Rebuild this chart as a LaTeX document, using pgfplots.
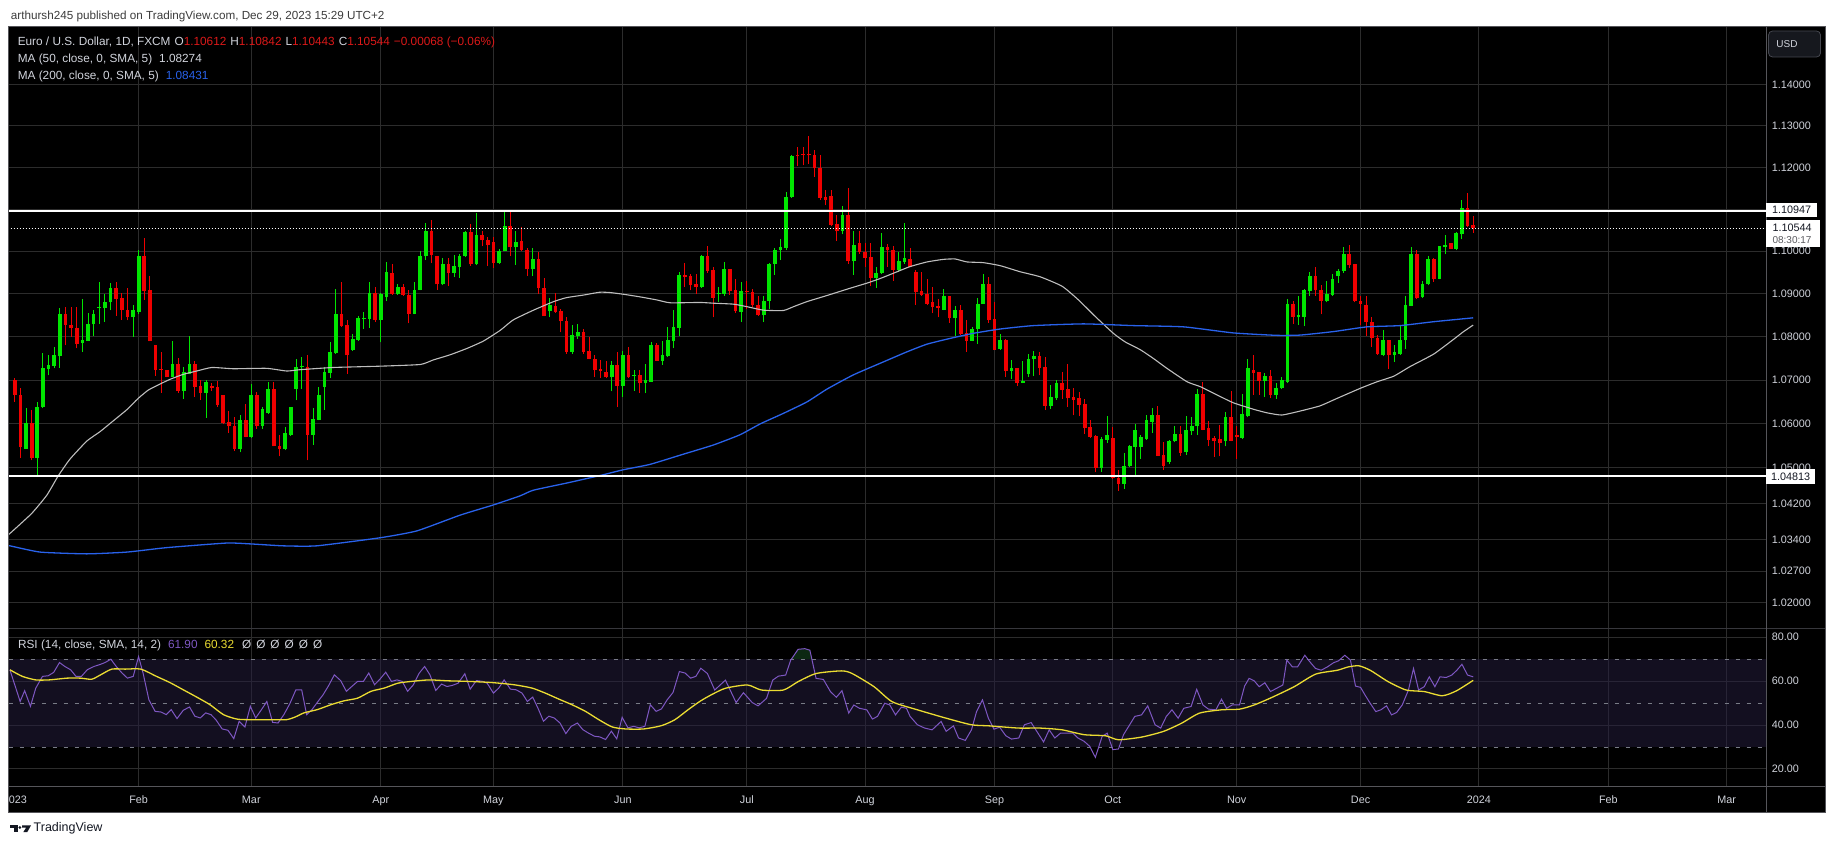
\documentclass[border=0pt]{standalone}
\usepackage{pgfplots}
\pgfplotsset{compat=1.18}
\usepackage{pgfplotstable}
\usepackage{fontspec}
\setmainfont{Liberation Sans}
\definecolor{upc}{RGB}{0,230,0}
\definecolor{dnc}{RGB}{240,0,0}
\definecolor{gridc}{RGB}{44,44,44}
\definecolor{axtext}{RGB}{209,212,220}
\definecolor{ma50c}{RGB}{190,190,190}
\definecolor{ma200c}{RGB}{41,98,235}
\definecolor{rsic}{RGB}{126,87,194}
\definecolor{rsimac}{RGB}{235,220,50}
\definecolor{bandc}{RGB}{38,30,64}
\definecolor{dashc}{RGB}{120,123,134}
\definecolor{obc}{RGB}{12,40,18}
\definecolor{legred}{RGB}{220,25,25}
\definecolor{sepc}{RGB}{85,85,90}
\definecolor{sepd}{RGB}{55,55,60}
\definecolor{capc}{RGB}{60,60,60}
\definecolor{footc}{RGB}{19,23,34}

\pgfplotstableread{
i o h l c
2 1.0544 1.0636 1.0543 1.0602
4 1.0522 1.0651 1.0485 1.0639
5 1.0638 1.0762 1.0636 1.0727
6 1.0725 1.0759 1.0711 1.0734
7 1.0733 1.0776 1.0727 1.0757
8 1.0755 1.0866 1.0728 1.0852
12 1.0785 1.0887 1.0766 1.0792
13 1.0791 1.0855 1.0790 1.0830
14 1.0829 1.0861 1.0802 1.0853
15 1.0866 1.0928 1.0830 1.0869
16 1.0866 1.0900 1.0835 1.0882
17 1.0880 1.0925 1.0861 1.0913
21 1.0845 1.0875 1.0800 1.0861
22 1.0858 1.1002 1.0852 1.0988
28 1.0706 1.0791 1.0706 1.0738
30 1.0676 1.0729 1.0657 1.0719
31 1.0715 1.0802 1.0713 1.0738
34 1.0670 1.0700 1.0614 1.0696
40 1.0543 1.0620 1.0535 1.0609
42 1.0571 1.0691 1.0568 1.0666
44 1.0595 1.0638 1.0588 1.0633
45 1.0624 1.0696 1.0623 1.0679
48 1.0543 1.0592 1.0540 1.0579
49 1.0575 1.0639 1.0573 1.0639
50 1.0679 1.0748 1.0653 1.0730
51 1.0729 1.0753 1.0680 1.0732
53 1.0575 1.0636 1.0553 1.0611
54 1.0609 1.0685 1.0608 1.0666
55 1.0685 1.0730 1.0632 1.0719
56 1.0717 1.0787 1.0704 1.0764
57 1.0762 1.0912 1.0761 1.0853
60 1.0770 1.0806 1.0768 1.0795
61 1.0793 1.0849 1.0791 1.0844
62 1.0841 1.0857 1.0818 1.0843
63 1.0841 1.0928 1.0820 1.0902
65 1.0839 1.0902 1.0787 1.0900
66 1.0892 1.0975 1.0883 1.0951
68 1.0900 1.0924 1.0898 1.0916
71 1.0853 1.0928 1.0852 1.0909
72 1.0909 1.1001 1.0908 1.0990
73 1.0988 1.1067 1.0979 1.1047
76 1.0922 1.0983 1.0920 1.0971
78 1.0950 1.0991 1.0939 1.0965
79 1.0963 1.0993 1.0938 1.0988
80 1.0988 1.1049 1.0987 1.1045
82 1.0969 1.1091 1.0967 1.1038
86 1.0972 1.1006 1.0971 1.1001
87 1.1000 1.1095 1.1000 1.1061
89 1.1009 1.1049 1.0968 1.1021
92 1.0958 1.1008 1.0942 1.0982
95 1.0859 1.0891 1.0845 1.0874
99 1.0766 1.0827 1.0761 1.0804
100 1.0802 1.0829 1.0795 1.0811
106 1.0706 1.0745 1.0674 1.0734
108 1.0686 1.0767 1.0662 1.0759
110 1.0709 1.0723 1.0676 1.0712
112 1.0693 1.0738 1.0670 1.0700
113 1.0696 1.0787 1.0695 1.0782
115 1.0744 1.0791 1.0735 1.0757
116 1.0755 1.0822 1.0753 1.0792
117 1.0790 1.0862 1.0773 1.0823
118 1.0821 1.0952 1.0802 1.0945
122 1.0916 1.0992 1.0914 1.0988
125 1.0900 1.0916 1.0881 1.0902
126 1.0900 1.0974 1.0896 1.0958
129 1.0858 1.0928 1.0834 1.0906
133 1.0850 1.0896 1.0834 1.0883
134 1.0883 1.0973 1.0864 1.0970
135 1.0970 1.1008 1.0944 1.1002
136 1.1002 1.1028 1.0979 1.1010
137 1.1008 1.1142 1.1002 1.1129
138 1.1129 1.1230 1.1127 1.1227
147 1.1047 1.1108 1.1040 1.1086
149 1.0976 1.1049 1.0944 1.1016
153 1.0938 1.0964 1.0914 1.0950
154 1.0948 1.1044 1.0946 1.1010
157 1.0956 1.0998 1.0952 1.0976
158 1.0974 1.1066 1.0970 1.0984
165 1.0863 1.0911 1.0861 1.0895
167 1.0843 1.0872 1.0802 1.0862
170 1.0791 1.0822 1.0789 1.0818
171 1.0818 1.0891 1.0784 1.0877
172 1.0877 1.0946 1.0876 1.0922
175 1.0772 1.0806 1.0770 1.0792
177 1.0721 1.0747 1.0702 1.0728
179 1.0694 1.0743 1.0692 1.0698
180 1.0715 1.0761 1.0708 1.0749
181 1.0748 1.0768 1.0709 1.0755
184 1.0641 1.0689 1.0634 1.0661
185 1.0658 1.0700 1.0655 1.0692
193 1.0500 1.0571 1.0492 1.0565
194 1.0564 1.0618 1.0556 1.0575
197 1.0464 1.0534 1.0453 1.0505
198 1.0504 1.0553 1.0502 1.0550
199 1.0547 1.0600 1.0485 1.0586
200 1.0547 1.0575 1.0521 1.0569
201 1.0565 1.0620 1.0564 1.0608
202 1.0605 1.0636 1.0580 1.0620
205 1.0513 1.0564 1.0510 1.0562
206 1.0560 1.0595 1.0558 1.0577
208 1.0535 1.0618 1.0530 1.0585
209 1.0583 1.0615 1.0575 1.0594
210 1.0594 1.0679 1.0574 1.0668
215 1.0562 1.0628 1.0549 1.0615
218 1.0568 1.0668 1.0565 1.0623
219 1.0618 1.0748 1.0615 1.0727
222 1.0698 1.0717 1.0661 1.0709
224 1.0666 1.0694 1.0657 1.0683
225 1.0683 1.0708 1.0679 1.0700
226 1.0696 1.0887 1.0693 1.0877
228 1.0845 1.0895 1.0828 1.0851
229 1.0847 1.0912 1.0824 1.0908
230 1.0906 1.0951 1.0896 1.0941
233 1.0883 1.0931 1.0880 1.0900
234 1.0898 1.0947 1.0896 1.0934
235 1.0941 1.0959 1.0925 1.0954
236 1.0954 1.1010 1.0949 1.0993
243 1.0759 1.0815 1.0755 1.0792
245 1.0757 1.0780 1.0742 1.0764
246 1.0761 1.0828 1.0759 1.0792
247 1.0792 1.0896 1.0772 1.0873
248 1.0871 1.1010 1.0871 1.0993
250 1.0892 1.0931 1.0891 1.0924
251 1.0922 1.0988 1.0920 1.0981
253 1.0935 1.1012 1.0934 1.1012
254 1.1009 1.1039 1.0993 1.1014
256 1.1005 1.1045 1.1002 1.1043
257 1.1040 1.1122 1.1028 1.1102
}\upcandles

\pgfplotstableread{
i o h l c
0 1.0700 1.0705 1.0651 1.0666
1 1.0666 1.0683 1.0522 1.0547
3 1.0602 1.0632 1.0517 1.0522
9 1.0852 1.0870 1.0780 1.0828
10 1.0828 1.0870 1.0800 1.0820
11 1.0821 1.0869 1.0773 1.0784
18 1.0913 1.0929 1.0849 1.0888
19 1.0890 1.0902 1.0839 1.0863
20 1.0863 1.0913 1.0838 1.0845
23 1.0988 1.1032 1.0886 1.0906
24 1.0908 1.0941 1.0789 1.0789
25 1.0780 1.0780 1.0709 1.0723
26 1.0726 1.0765 1.0671 1.0723
27 1.0723 1.0724 1.0706 1.0708
29 1.0738 1.0752 1.0670 1.0676
32 1.0738 1.0745 1.0662 1.0684
33 1.0687 1.0700 1.0655 1.0670
35 1.0686 1.0694 1.0676 1.0683
36 1.0685 1.0698 1.0639 1.0643
37 1.0666 1.0666 1.0599 1.0602
38 1.0605 1.0630 1.0579 1.0594
39 1.0595 1.0615 1.0538 1.0543
41 1.0609 1.0645 1.0569 1.0571
43 1.0666 1.0673 1.0588 1.0596
46 1.0679 1.0696 1.0549 1.0549
47 1.0550 1.0575 1.0526 1.0543
52 1.0730 1.0759 1.0517 1.0575
58 1.0853 1.0929 1.0822 1.0826
59 1.0827 1.0838 1.0715 1.0757
64 1.0902 1.0917 1.0834 1.0840
67 1.0950 1.0969 1.0898 1.0900
69 1.0916 1.0924 1.0896 1.0898
70 1.0898 1.0908 1.0831 1.0853
74 1.1047 1.1075 1.0972 1.0991
75 1.0988 1.0988 1.0909 1.0922
77 1.0971 1.0983 1.0918 1.0950
81 1.1045 1.1065 1.0965 1.0969
83 1.1038 1.1048 1.1012 1.1026
84 1.1027 1.1035 1.0965 1.1014
85 1.1023 1.1035 1.0961 1.0972
88 1.1061 1.1095 1.0988 1.1009
90 1.1025 1.1057 1.1000 1.1002
91 1.1004 1.1008 1.0942 1.0958
93 1.0982 1.0998 1.0900 1.0914
94 1.0914 1.0936 1.0848 1.0848
96 1.0872 1.0902 1.0855 1.0858
97 1.0859 1.0864 1.0810 1.0836
98 1.0837 1.0846 1.0761 1.0766
101 1.0811 1.0818 1.0761 1.0766
102 1.0768 1.0800 1.0748 1.0748
103 1.0749 1.0758 1.0708 1.0723
104 1.0726 1.0746 1.0704 1.0720
105 1.0718 1.0743 1.0704 1.0706
107 1.0734 1.0764 1.0638 1.0686
109 1.0759 1.0777 1.0705 1.0706
111 1.0712 1.0723 1.0670 1.0693
114 1.0782 1.0785 1.0744 1.0745
119 1.0945 1.0972 1.0916 1.0940
120 1.0942 1.0946 1.0908 1.0920
121 1.0922 1.0946 1.0899 1.0916
123 1.0988 1.1013 1.0950 1.0954
124 1.0956 1.0962 1.0845 1.0891
127 1.0958 1.0958 1.0898 1.0906
128 1.0908 1.0934 1.0856 1.0859
130 1.0906 1.0930 1.0865 1.0904
131 1.0904 1.0912 1.0869 1.0873
132 1.0873 1.0896 1.0848 1.0850
139 1.1230 1.1248 1.1203 1.1227
140 1.1232 1.1250 1.1205 1.1229
141 1.1232 1.1276 1.1209 1.1229
142 1.1230 1.1242 1.1178 1.1198
143 1.1198 1.1230 1.1122 1.1127
144 1.1129 1.1146 1.1109 1.1122
145 1.1131 1.1146 1.1060 1.1062
146 1.1064 1.1086 1.1024 1.1047
148 1.1086 1.1150 1.0971 1.0976
150 1.1020 1.1047 1.0994 1.0998
151 1.0999 1.1020 1.0964 1.0984
152 1.0986 1.1020 1.0918 1.0938
155 1.1010 1.1018 1.0964 1.1002
156 1.1004 1.1013 1.0930 1.0956
159 1.0982 1.1008 1.0962 1.0964
160 1.0952 1.0956 1.0874 1.0904
161 1.0906 1.0952 1.0896 1.0898
162 1.0900 1.0934 1.0873 1.0877
163 1.0880 1.0916 1.0855 1.0870
164 1.0872 1.0888 1.0845 1.0868
166 1.0895 1.0895 1.0833 1.0843
168 1.0862 1.0874 1.0805 1.0806
169 1.0808 1.0840 1.0766 1.0791
173 1.0922 1.0940 1.0833 1.0839
174 1.0841 1.0880 1.0769 1.0770
176 1.0792 1.0795 1.0708 1.0721
178 1.0728 1.0728 1.0687 1.0694
182 1.0755 1.0764 1.0711 1.0728
183 1.0729 1.0753 1.0632 1.0641
186 1.0692 1.0719 1.0656 1.0677
187 1.0680 1.0736 1.0639 1.0658
188 1.0662 1.0683 1.0619 1.0655
189 1.0658 1.0672 1.0617 1.0643
190 1.0645 1.0656 1.0577 1.0590
191 1.0592 1.0609 1.0568 1.0571
192 1.0573 1.0575 1.0490 1.0500
195 1.0568 1.0592 1.0476 1.0477
196 1.0477 1.0495 1.0449 1.0464
203 1.0620 1.0641 1.0528 1.0528
204 1.0530 1.0559 1.0496 1.0505
207 1.0577 1.0595 1.0528 1.0534
211 1.0668 1.0696 1.0585 1.0586
212 1.0590 1.0607 1.0549 1.0564
213 1.0567 1.0573 1.0525 1.0560
214 1.0565 1.0598 1.0526 1.0556
216 1.0615 1.0676 1.0560 1.0562
217 1.0575 1.0594 1.0520 1.0570
220 1.0723 1.0757 1.0666 1.0717
221 1.0719 1.0719 1.0666 1.0698
223 1.0709 1.0724 1.0658 1.0666
227 1.0877 1.0883 1.0830 1.0845
231 1.0941 1.0964 1.0896 1.0908
232 1.0909 1.0921 1.0852 1.0884
237 1.0993 1.1016 1.0961 1.0967
238 1.0969 1.0969 1.0880 1.0883
239 1.0884 1.0894 1.0827 1.0877
240 1.0875 1.0894 1.0802 1.0834
241 1.0835 1.0847 1.0777 1.0798
242 1.0796 1.0805 1.0759 1.0761
244 1.0793 1.0793 1.0725 1.0757
249 1.0993 1.1004 1.0889 1.0891
252 1.0981 1.0985 1.0928 1.0935
255 1.1020 1.1020 1.1005 1.1005
258 1.1102 1.1138 1.1058 1.1059
259 1.10612 1.10842 1.10443 1.10544
}\downcandles

% build vertical segment lists (x,low)(x,high)(x,nan) from the OHLC tables
\newcommand\makesegs[4]{%
  \gdef#4{}%
  \pgfplotstablegetrowsof{#1}%
  \pgfmathtruncatemacro\segN{\pgfplotsretval-1}%
  \foreach \r in {0,...,\segN}{%
    \pgfplotstablegetelem{\r}{i}\of{#1}\let\sx\pgfplotsretval
    \pgfplotstablegetelem{\r}{#2}\of{#1}\let\slo\pgfplotsretval
    \pgfplotstablegetelem{\r}{#3}\of{#1}\let\shi\pgfplotsretval
    \xdef#4{#4(\sx,\slo)(\sx,\shi)(\sx,nan)}%
  }%
}
\makesegs{\upcandles}{l}{h}{\upwick}
\makesegs{\upcandles}{o}{c}{\upbody}
\makesegs{\downcandles}{l}{h}{\dnwick}
\makesegs{\downcandles}{c}{o}{\dnbody}
\def\lnnan{nan}

\begin{document}
\begin{tikzpicture}
\useasboundingbox (0pt,0pt) rectangle (1835pt,849pt);
\clip (0pt,0pt) rectangle (1835pt,849pt);
\fill[white] (0pt,0pt) rectangle (1835pt,849pt);
\fill[black] (8pt,36pt) rectangle (1826pt,822pt);

% ---------------- main price panel (logarithmic price scale) ----------------
\begin{axis}[at={(8pt,221pt)}, anchor=south west, scale only axis,
  width=1758pt, height=601pt,
  y coord trafo/.code={%
    \edef\lnarg{#1}%
    \ifx\lnarg\lnnan\def\pgfmathresult{nan}\else
      \begingroup\pgfkeys{/pgf/fpu=true,/pgf/fpu/output format=fixed}%
      \pgfmathparse{ln(#1)}\xdef\lnres{\pgfmathresult}\endgroup
      \let\pgfmathresult\lnres
    \fi},
  y coord inv trafo/.code={%
    \begingroup\pgfkeys{/pgf/fpu=true,/pgf/fpu/output format=fixed}%
    \pgfmathparse{exp(#1)}\xdef\lnres{\pgfmathresult}\endgroup
    \let\pgfmathresult\lnres},
  xmin=-1.208, xmax=311, ymin=1.01454, ymax=1.15428,
  axis line style={draw=none}, major tick length=0pt,
  xtick={22,42,65,85,108,130,151,174,195,217,239,260,283,304},
  xticklabels={,,,,,,,,,,,,,},
  ytick={1.02,1.027,1.034,1.042,1.05,1.06,1.07,1.08,1.09,1.10,1.11,1.12,1.13,1.14},
  yticklabels={1.02000,1.02700,1.03400,1.04200,1.05000,1.06000,1.07000,1.08000,1.09000,1.10000,1.11000,1.12000,1.13000,1.14000},
  yticklabel pos=right,
  grid=major, major grid style={gridc, line width=1pt},
  tick label style={font=\fontsize{10.8}{13}\selectfont, text=axtext, inner sep=0pt},
  yticklabel style={anchor=west, xshift=5.7pt},
  unbounded coords=jump,
]
\edef\candleplots{%
  \noexpand\addplot[upc, line width=1pt, forget plot] coordinates {\upwick};
  \noexpand\addplot[dnc, line width=1pt, forget plot] coordinates {\dnwick};
  \noexpand\addplot[upc, line width=3.7pt, forget plot] coordinates {\upbody};
  \noexpand\addplot[dnc, line width=3.7pt, forget plot] coordinates {\dnbody};
}
\candleplots
% MA 50
\addplot[ma50c, line width=1.1pt, smooth, tension=0.3] coordinates {
(-1.2,1.0350) (-0.8,1.0354) (3.0,1.0398) (5.7,1.0439) (7.7,1.0482) (9.8,1.0520) (12.8,1.0561) (15.1,1.0582) (17.8,1.0610) (19.9,1.0632) (21.9,1.0658) (23.7,1.0677) (25.8,1.0691) (27.6,1.0702) (29.9,1.0713) (32.3,1.0721) (35.0,1.0729) (38.8,1.0726) (44.7,1.0727) (48.3,1.0721) (50.7,1.0724) (56.6,1.0729) (64.9,1.0732) (72.0,1.0736) (74.3,1.0746) (77.3,1.0758) (80.3,1.0773) (83.2,1.0790) (86.2,1.0815) (88.5,1.0839) (92.1,1.0862) (95.7,1.0882) (98.0,1.0891) (101.0,1.0897) (103.9,1.0904) (105.7,1.0903) (108.1,1.0899) (111.0,1.0893) (114.0,1.0886) (116.4,1.0879) (121.7,1.0880) (124.1,1.0878) (127.6,1.0876) (130.0,1.0870) (133.0,1.0862) (136.5,1.0861) (138.3,1.0870) (140.7,1.0882) (144.2,1.0896) (148.3,1.0913) (151.3,1.0925) (153.7,1.0936) (156.0,1.0948) (159.0,1.0964) (162.0,1.0975) (164.9,1.0981) (167.0,1.0982) (169.1,1.0975) (172.0,1.0973) (175.0,1.0966) (178.5,1.0952) (182.1,1.0940) (186.0,1.0918) (188.9,1.0886) (191.9,1.0847) (195.1,1.0808) (197.2,1.0788) (199.9,1.0770) (202.2,1.0750) (204.6,1.0727) (208.2,1.0696) (210.5,1.0685) (213.5,1.0666) (216.4,1.0648) (220.0,1.0633) (222.4,1.0625) (225.0,1.0620) (228.3,1.0629) (231.8,1.0641) (234.8,1.0658) (238.9,1.0681) (241.9,1.0696) (244.9,1.0709) (247.8,1.0731) (252.0,1.0760) (255.5,1.0794) (257.3,1.0812) (259.0,1.0827)
};
% MA 200
\addplot[ma200c, line width=1.3pt, smooth, tension=0.3] coordinates {
(-1.2,1.0326) (-0.85,1.0326) (4.5,1.0312) (12.8,1.0308) (19.9,1.0312) (27.0,1.0322) (37.6,1.0332) (41.8,1.0330) (47.7,1.0326) (53.6,1.0326) (64.9,1.0344) (71.4,1.0359) (79.1,1.0394) (85.0,1.0417) (89.7,1.0437) (92.1,1.0450) (98.0,1.0466) (103.9,1.0483) (108.1,1.0496) (112.8,1.0508) (118.7,1.0531) (124.1,1.0552) (128.8,1.0575) (132.4,1.0600) (136.5,1.0624) (140.7,1.0650) (144.2,1.0679) (148.9,1.0712) (154.3,1.0742) (158.4,1.0765) (162.0,1.0783) (166.1,1.0796) (170.2,1.0808) (175.0,1.0818) (180.9,1.0826) (189.8,1.0830) (198.7,1.0826) (207.6,1.0823) (216.4,1.0809) (224.1,1.0803) (228.3,1.0804) (234.2,1.0812) (240.1,1.0823) (246.0,1.0826) (252.0,1.0835) (259.0,1.0844)
};
% horizontal levels
\addplot[white, line width=2pt] coordinates {(-5,1.10947) (320,1.10947)};
\addplot[white, line width=2pt] coordinates {(-5,1.04813) (320,1.04813)};
\addplot[white, line width=1pt, dash pattern=on 1pt off 2pt] coordinates {(-5,1.10544) (320,1.10544)};
\end{axis}

% ---------------- RSI panel ----------------
\begin{axis}[at={(8pt,63pt)}, anchor=south west, scale only axis,
  width=1758pt, height=158pt,
  xmin=-1.208, xmax=311, ymin=12.27, ymax=84.09,
  axis line style={draw=none}, major tick length=0pt,
  xtick={22,42,65,85,108,130,151,174,195,217,239,260,283,304},
  xticklabels={Feb,Mar,Apr,May,Jun,Jul,Aug,Sep,Oct,Nov,Dec,2024,Feb,Mar},
  extra x ticks={0}, extra x tick labels={2023}, extra x tick style={grid=none},
  ytick={20,40,60,80}, yticklabels={20.00,40.00,60.00,80.00},
  yticklabel pos=right,
  grid=major, major grid style={gridc, line width=1pt},
  tick label style={font=\fontsize{10.8}{13}\selectfont, text=axtext, inner sep=0pt},
  xticklabel style={anchor=base, yshift=-17pt},
  yticklabel style={anchor=west, xshift=5.7pt},
]
\addplot[draw=none, fill=bandc, fill opacity=0.5] coordinates {(-5,30) (320,30) (320,70) (-5,70)} -- cycle;
% overbought fill above 70
\addplot[draw=none, fill=obc] coordinates {(137.9,70) (139.1,74.4) (140.3,74.7) (141.2,74.0) (141.54,70)} -- cycle;
\addplot[dashc, line width=0.8pt, dash pattern=on 4.3pt off 6.7pt] coordinates {(-5,70) (320,70)};
\addplot[dashc, line width=0.8pt, dash pattern=on 4.3pt off 6.7pt] coordinates {(-5,50) (320,50)};
\addplot[dashc, line width=0.8pt, dash pattern=on 4.3pt off 6.7pt] coordinates {(-5,30) (320,30)};
% RSI
\addplot[rsic, line width=1pt] coordinates {
(-0.87,65.1) (0.95,50.7) (1.75,55.6) (2.78,48.5) (3.73,56.8) (4.92,62.1) (5.95,62.4) (6.90,63.9) (7.94,68.4) (8.89,66.6) (9.92,65.1) (10.87,62.1) (11.83,62.1) (12.86,65.1) (14.05,66.6) (15.24,67.6) (16.03,68.4) (17.06,69.9) (18.02,66.6) (19.05,63.6) (20.0,61.3) (21.03,62.1) (21.98,71.1) (22.78,63.6) (23.81,51.5) (24.92,46.2) (25.95,45.9) (26.90,44.7) (27.78,47.0) (28.81,42.9) (29.92,46.7) (31.03,48.2) (31.98,44.0) (32.94,43.2) (33.89,45.5) (34.84,44.7) (35.71,42.4) (36.83,38.2) (37.86,37.6) (38.89,33.8) (39.84,41.7) (40.87,39.1) (41.83,48.5) (42.78,43.2) (43.81,47.0) (44.76,50.7) (45.79,41.2) (46.75,40.9) (47.78,44.7) (48.81,49.5) (49.92,56.0) (50.95,56.0) (51.83,44.7) (52.78,47.0) (53.73,50.3) (54.76,53.8) (55.71,57.8) (56.75,62.8) (57.86,60.2) (58.89,55.3) (59.84,57.5) (60.87,59.8) (61.90,59.8) (62.86,63.6) (63.89,58.3) (64.84,60.8) (65.87,64.0) (66.90,59.8) (67.86,60.5) (68.81,59.8) (69.76,55.3) (70.79,58.3) (71.83,63.6) (72.78,66.6) (73.73,62.8) (74.76,55.7) (75.79,58.6) (76.75,57.5) (77.70,58.0) (78.73,59.0) (79.92,63.3) (80.87,56.3) (81.98,60.2) (83.10,59.8) (83.89,59.0) (85.0,54.5) (85.95,56.8) (86.90,60.5) (88.02,56.3) (89.05,56.0) (90.08,54.5) (91.03,50.7) (91.98,52.7) (93.02,47.0) (93.89,41.7) (94.84,44.0) (95.79,43.2) (96.83,40.9) (97.86,36.1) (98.81,39.4) (99.92,40.9) (100.87,37.9) (101.83,36.4) (102.94,34.9) (103.89,34.6) (104.92,33.4) (105.95,37.2) (106.90,33.7) (107.86,43.5) (108.89,38.7) (109.92,39.4) (110.87,38.7) (111.90,39.4) (112.86,49.2) (113.89,46.2) (114.84,47.3) (115.87,51.5) (116.90,54.8) (118.02,64.3) (119.05,63.6) (120.0,61.3) (120.95,62.1) (121.83,65.8)
(123.0,63.4) (124.3,55.9) (126.2,60.4) (128.1,50.2) (129.4,54.7) (130.96,50.2) (132.0,48.7) (133.5,52.1) (134.6,60.4) (135.6,62.2) (136.9,62.7) (137.8,69.5) (139.1,74.4) (140.3,74.7) (141.2,74.0) (142.3,61.2) (143.6,60.7) (144.85,55.2) (145.9,52.6) (146.9,55.6) (148.1,45.4) (149.0,49.1) (150.0,47.6) (151.3,46.9) (152.3,42.7) (153.2,43.9) (154.5,49.9) (155.4,49.1) (156.4,44.6) (157.45,48.1) (158.35,47.6) (159.0,43.9) (160.3,40.1) (161.6,38.6) (162.9,37.8) (164.5,41.6) (165.4,37.1) (166.7,39.6) (167.6,34.1) (168.8,33.0) (169.9,37.8) (170.8,46.1) (171.85,51.4) (172.9,43.1) (173.9,38.1) (174.9,39.0) (176.0,35.1) (177.0,33.6) (178.3,34.1) (179.3,40.1) (180.5,41.1) (181.5,37.1) (182.7,32.3) (183.7,37.8) (184.7,34.1) (185.7,36.3) (186.6,36.3) (187.9,36.3) (188.8,34.1) (189.9,32.6) (190.9,30.3) (191.9,25.3) (193.1,34.8) (194.0,36.3) (195.0,28.8) (196.0,29.1) (196.9,35.6) (197.8,39.3) (198.9,43.9) (200.1,44.6) (201.2,48.7) (202.5,40.1) (203.5,38.6) (204.5,43.9) (205.5,46.9) (206.6,43.1) (207.6,47.6) (208.9,48.4) (209.9,56.2) (211.0,49.1) (212.0,47.2) (213.3,46.9) (214.3,51.7) (215.2,47.6) (216.2,49.1) (217.5,49.1) (218.4,57.7) (219.2,61.2) (220.1,60.1) (221.0,57.4) (222.0,59.2) (223.0,55.2) (224.1,56.7) (225.2,58.2) (225.9,69.5) (226.9,66.4) (227.8,66.4) (229.1,71.7) (230.0,68.7) (231.0,65.7) (232.0,64.9) (233.1,66.4) (234.2,68.3) (235.1,69.2) (236.2,71.7) (237.2,69.5) (238.1,57.7) (239.0,57.1) (239.8,53.6) (240.7,49.9) (241.7,46.1) (242.6,46.9) (243.6,48.7) (244.5,44.6) (245.4,45.7) (246.4,49.1) (247.5,55.9) (248.4,65.7) (249.3,55.9) (250.3,57.4) (251.2,61.9) (252.2,57.4) (253.1,61.9) (254.2,61.6) (255.2,62.7) (256.1,64.9) (257.0,67.6) (258.0,62.7) (259.0,61.9)
};
% RSI-based MA
\addplot[rsimac, line width=1.3pt, smooth, tension=0.4] coordinates {
(-0.87,65.1) (1.35,62.1) (3.73,60.5) (6.11,60.5) (9.29,61.3) (11.67,61.3) (13.65,60.8) (15.24,62.8) (17.22,65.4) (19.60,65.4) (22.38,65.4) (25.16,62.1) (27.54,59.3) (29.92,56.0) (32.30,52.7) (34.68,49.2) (37.06,44.7) (39.44,42.7) (41.83,42.4) (45.0,42.4) (48.17,42.4) (49.76,43.6) (51.35,45.5) (53.73,47.0) (56.11,49.2) (58.49,51.0) (60.87,52.2) (63.25,55.3) (65.63,56.8) (68.02,59.0) (70.40,59.8) (73.57,60.5) (76.75,60.1) (80.71,59.8) (84.68,59.3) (88.65,58.3) (91.83,56.8) (94.21,54.5) (96.59,51.8) (98.97,49.2) (101.35,46.2) (103.73,42.4) (106.11,39.1) (108.49,38.2) (111.67,38.2) (114.84,39.7) (117.22,42.4) (119.60,47.0) (121.7,50.8) (123.6,53.6) (126.2,56.7) (130.1,58.2) (132.6,55.9) (136.5,55.9) (139.1,59.7) (142.3,63.4) (146.8,64.6) (148.7,63.4) (152.6,57.4) (155.8,50.6) (160.3,46.9) (165.4,43.1) (169.9,40.1) (173.1,39.6) (178.3,38.6) (182.1,38.6) (186.0,37.8) (189.9,35.6) (193.7,35.1) (196.0,33.3) (200.1,34.5) (204.0,37.1) (207.2,40.8) (210.4,45.4) (214.3,46.9) (217.5,47.2) (220.1,49.1) (223.3,52.6) (227.2,57.4) (231.0,63.1) (234.9,64.9) (236.8,66.4) (238.7,66.9) (240.7,64.9) (243.9,59.7) (247.1,55.9) (250.3,55.2) (253.5,53.3) (256.0,55.5) (259.0,60.3)
};
\end{axis}

% cover left margin
\fill[white] (0pt,0pt) rectangle (8pt,849pt);
% separators and frame
\draw[sepd, line width=1pt] (8pt,221pt) -- (1826pt,221pt);
\draw[sepc, line width=1pt] (8pt,63pt) -- (1826pt,63pt);
\draw[sepc, line width=1pt] (1766pt,36pt) -- (1766pt,822pt);
\draw[sepc, line width=1pt] (8.5pt,36.5pt) rectangle (1825.5pt,822.5pt);

% price boxes on the right scale
\fill[white] (1766pt,632pt) rectangle (1817pt,646pt);
\node[anchor=center, inner sep=0pt, text=footc, font=\fontsize{10.8}{13}\selectfont] at (1791.5pt,639pt) {1.10947};
\fill[white] (1766pt,602pt) rectangle (1820pt,629pt);
\node[anchor=center, inner sep=0pt, text=footc, font=\fontsize{10.8}{13}\selectfont] at (1792pt,621pt) {1.10544};
\node[anchor=center, inner sep=0pt, text={rgb,255:red,90;green,90;blue,95}, font=\fontsize{10}{12}\selectfont] at (1792pt,609pt) {08:30:17};
\fill[white] (1766pt,365pt) rectangle (1815pt,380pt);
\node[anchor=center, inner sep=0pt, text=footc, font=\fontsize{10.8}{13}\selectfont] at (1790.5pt,372.5pt) {1.04813};
% USD button
\draw[fill={rgb,255:red,22;green,24;blue,30}, draw={rgb,255:red,70;green,72;blue,80}, rounded corners=4pt, line width=0.8pt] (1768.5pt,792pt) rectangle (1820.5pt,818pt);
\node[anchor=center, inner sep=0pt, text=axtext, font=\fontsize{10}{12}\selectfont] at (1787pt,805pt) {USD};

% legends
\begin{scope}[every node/.style={anchor=base west, inner sep=0pt, font=\fontsize{11.8}{14}\selectfont, text=axtext}]
\node at (17.6pt,803pt) {Euro / U.S. Dollar, 1D, FXCM\hspace{4pt}O\textcolor{legred}{1.10612}\hspace{4pt}H\textcolor{legred}{1.10842}\hspace{4pt}L\textcolor{legred}{1.10443}\hspace{4pt}C\textcolor{legred}{1.10544}\hspace{4pt}\textcolor{legred}{−0.00068 (−0.06\%)}};
\node at (17.6pt,786pt) {MA (50, close, 0, SMA, 5)\hspace{7pt}1.08274};
\node at (17.6pt,769.5pt) {MA (200, close, 0, SMA, 5)\hspace{7pt}\textcolor{ma200c}{1.08431}};
\node at (17.9pt,201pt) {RSI (14, close, SMA, 14, 2)\hspace{7pt}\textcolor{rsic}{61.90}\hspace{7pt}\textcolor{rsimac}{60.32}\hspace{8pt}Ø\hspace{5pt}Ø\hspace{5pt}Ø\hspace{5pt}Ø\hspace{5pt}Ø\hspace{5pt}Ø};
\end{scope}

% caption and footer
\node[anchor=base west, inner sep=0pt, text=capc, font=\fontsize{11.7}{14}\selectfont] at (10.7pt,829.5pt) {arthursh245 published on TradingView.com, Dec 29, 2023 15:29 UTC+2};
\fill[footc] (10pt,21.5pt) rectangle (17.5pt,23.6pt);
\fill[footc] (13.6pt,17pt) rectangle (17.5pt,23.6pt);
\fill[footc] (19.9pt,21.6pt) circle (1.5pt);
\fill[footc] (22.2pt,23.6pt) -- (31pt,23.6pt) -- (27.3pt,17pt) -- (23.4pt,17pt) -- (26.2pt,21.5pt) -- (22.2pt,21.5pt) -- cycle;
\node[anchor=base west, inner sep=0pt, text=footc, font=\fontsize{12.5}{15}\selectfont] at (33.5pt,17.7pt) {TradingView};
\end{tikzpicture}
\end{document}
